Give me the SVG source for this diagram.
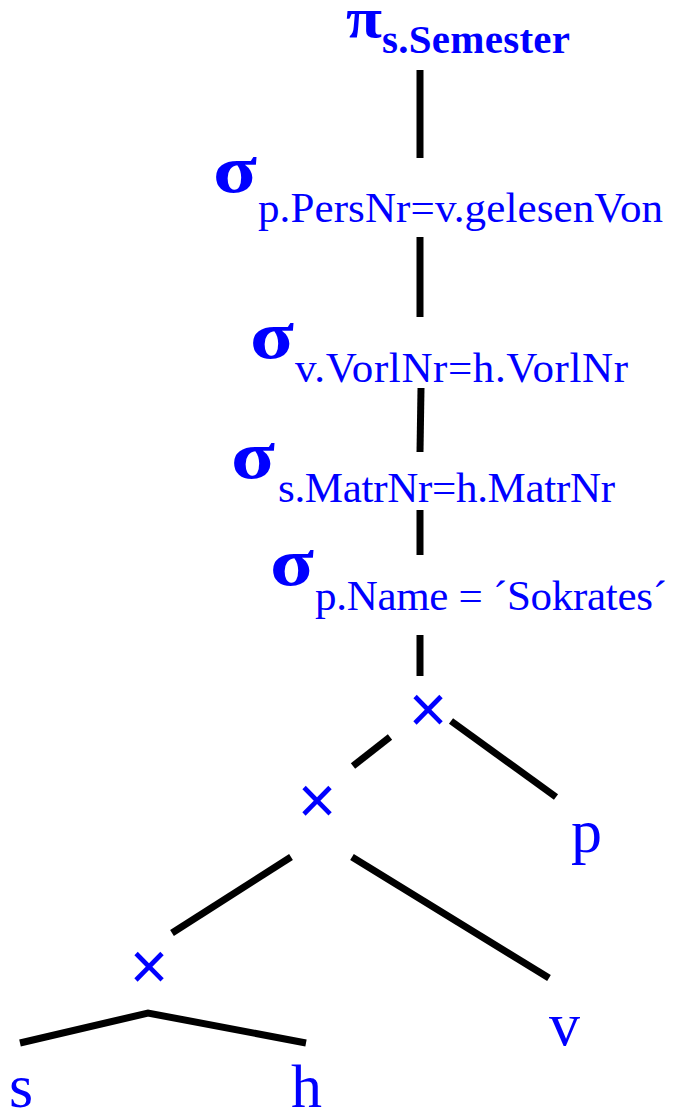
<svg xmlns="http://www.w3.org/2000/svg" width="673" height="1112" viewBox="0 0 673 1112">
<style>
.t{font-family:"Liberation Serif","Times New Roman",serif;fill:#0000ff}
.op{font-weight:bold;font-size:68px}
.sub{font-size:43px}
.x{font-family:"Liberation Sans",Arial,sans-serif;font-size:66px;fill:#0000ff;text-anchor:middle}
.rel{font-size:62px}
.e{stroke:#000;stroke-width:7;fill:none}
</style>
<rect width="673" height="1112" fill="#fff"/>
<g id="connectors">
<line class="e" x1="420" y1="70" x2="420" y2="158"/>
<line class="e" x1="420" y1="237" x2="420" y2="317"/>
<line class="e" x1="421" y1="388" x2="420" y2="452"/>
<line class="e" x1="420" y1="510" x2="420" y2="555"/>
<line class="e" x1="420" y1="635" x2="420" y2="676"/>
<line class="e" x1="451" y1="721" x2="556" y2="797"/>
<line class="e" x1="390" y1="737" x2="353" y2="766"/>
<line class="e" x1="291" y1="857" x2="172" y2="933"/>
<line class="e" x1="352" y1="857" x2="549" y2="978"/>
<polyline class="e" points="20,1043 148,1013 306,1043"/>
</g>
<g id="proj">
<text class="t" x="346" y="37" font-weight="bold" font-size="58" textLength="36" lengthAdjust="spacingAndGlyphs">π</text>
<text class="t" x="382" y="53" font-weight="bold" font-size="41" textLength="188">s.Semester</text>
</g>
<g id="sel1">
<text class="t op" x="213" y="192" textLength="44" lengthAdjust="spacingAndGlyphs">σ</text>
<text class="t sub" x="258" y="222" textLength="405">p.PersNr=v.gelesenVon</text>
</g>
<g id="sel2">
<text class="t op" x="250" y="358" textLength="44" lengthAdjust="spacingAndGlyphs">σ</text>
<text class="t sub" x="295" y="382" textLength="333">v.VorlNr=h.VorlNr</text>
</g>
<g id="sel3">
<text class="t op" x="231" y="478" textLength="44" lengthAdjust="spacingAndGlyphs">σ</text>
<text class="t sub" x="278" y="502" textLength="337">s.MatrNr=h.MatrNr</text>
</g>
<g id="sel4">
<text class="t op" x="270" y="585" textLength="44" lengthAdjust="spacingAndGlyphs">σ</text>
<text class="t sub" x="315" y="610" textLength="352">p.Name = ´Sokrates´</text>
</g>
<g id="cross1"><text class="x" x="428" y="732">×</text></g>
<g id="cross2"><text class="x" x="317" y="823">×</text></g>
<g id="cross3"><text class="x" x="149" y="989">×</text></g>
<g id="rel-p"><text class="t rel" x="571" y="852">p</text></g>
<g id="rel-v"><text class="t rel" x="549" y="1045">v</text></g>
<g id="rel-s"><text class="t rel" x="9" y="1107">s</text></g>
<g id="rel-h"><text class="t rel" x="291" y="1107">h</text></g>
</svg>
